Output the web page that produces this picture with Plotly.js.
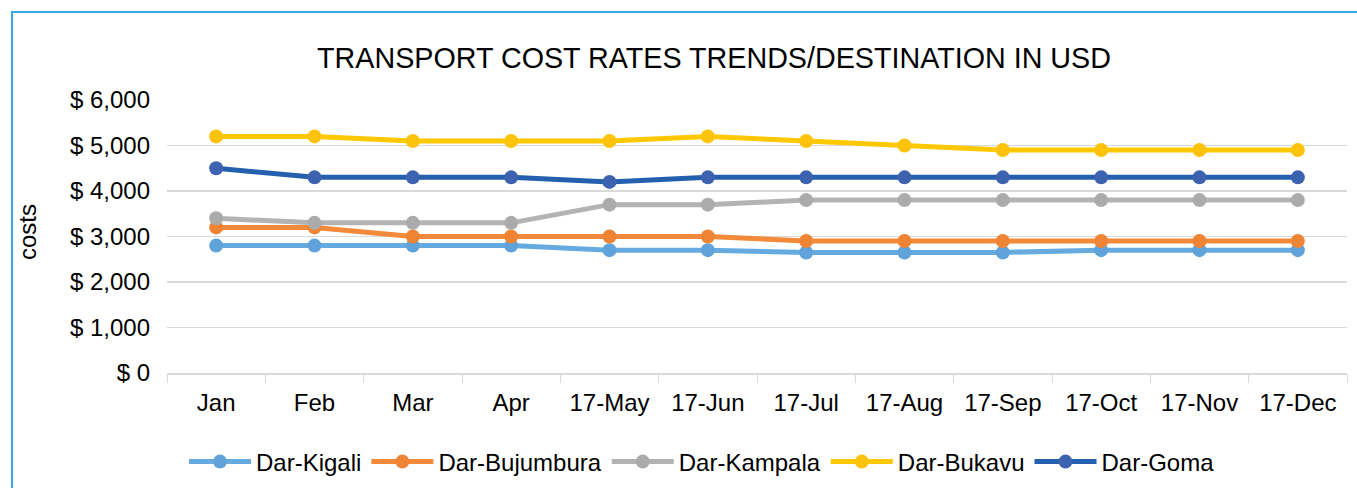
<!DOCTYPE html>
<html>
<head>
<meta charset="utf-8">
<script src="https://cdn.plot.ly/plotly-3.0.1.min.js"></script>
<style>
  html, body { margin: 0; padding: 0; background: #fff; }
  #wrap { position: relative; width: 1357px; height: 488px; overflow: hidden; }
  #frame { position: absolute; left: 11px; top: 11px; width: 1400px; height: 600px;
           border-left: 2px solid #3aa9df; border-top: 2px solid #3aa9df; }
  #chart { position: absolute; left: 0; top: 0; width: 1357px; height: 488px; }
</style>
</head>
<body>
<div id="wrap">
  <div id="frame"></div>
  <div id="chart"></div>
</div>
<script>
const months = ["Jan", "Feb", "Mar", "Apr", "17-May", "17-Jun", "17-Jul", "17-Aug", "17-Sep", "17-Oct", "17-Nov", "17-Dec"];
const darKigali    = [2800, 2800, 2800, 2800, 2700, 2700, 2650, 2650, 2650, 2700, 2700, 2700];
const darBujumbura = [3200, 3200, 3000, 3000, 3000, 3000, 2900, 2900, 2900, 2900, 2900, 2900];
const darKampala   = [3400, 3300, 3300, 3300, 3700, 3700, 3800, 3800, 3800, 3800, 3800, 3800];
const darBukavu    = [5200, 5200, 5100, 5100, 5100, 5200, 5100, 5000, 4900, 4900, 4900, 4900];
const darGoma      = [4500, 4300, 4300, 4300, 4200, 4300, 4300, 4300, 4300, 4300, 4300, 4300];
const seriesNames  = ["Dar-Kigali", "Dar-Bujumbura", "Dar-Kampala", "Dar-Bukavu", "Dar-Goma"];

const seriesData = [darKigali, darBujumbura, darKampala, darBukavu, darGoma];
const lineColors = ["#66aae0", "#f28a3a", "#b3b3b3", "#ffc800", "#2460ad"];
const markerColors = ["#5fa3da", "#ef8434", "#ababab", "#fdc30a", "#3d63b0"];

const traces = seriesData.map((d, i) => ({
  type: "scatter",
  mode: "lines+markers",
  x: months,
  y: d,
  name: seriesNames[i],
  line: { color: lineColors[i], width: 5 },
  marker: { color: markerColors[i], size: 14 },
  hoverinfo: "x+y+name"
}));

const font = "Liberation Sans, Arial, Helvetica, sans-serif";
const plotLeft = 167, plotRight = 1347;

const layout = {
  width: 1357,
  height: 488,
  paper_bgcolor: "rgba(0,0,0,0)",
  plot_bgcolor: "rgba(0,0,0,0)",
  margin: { l: plotLeft, r: 1357 - plotRight, t: 100, b: 115, autoexpand: false },
  font: { family: font, size: 24, color: "#000" },
  title: {
    text: "TRANSPORT COST RATES TRENDS/DESTINATION IN USD",
    font: { family: font, size: 28.7, color: "#000" },
    xref: "paper", x: (714 - plotLeft) / (plotRight - plotLeft), xanchor: "center",
    yref: "container", y: 1 - 58 / 488, yanchor: "middle"
  },
  xaxis: {
    type: "category",
    range: [-0.5, months.length - 0.5],
    automargin: false,
    showgrid: false,
    showline: true,
    linecolor: "#d9d9d9",
    linewidth: 1.5,
    ticks: "outside",
    tickson: "boundaries",
    ticklen: 8,
    tickcolor: "#d9d9d9",
    tickfont: { family: font, size: 24, color: "#000" },
    ticklabelstandoff: 8,
    zeroline: false
  },
  yaxis: {
    automargin: false,
    range: [0, 6000],
    dtick: 1000,
    tickprefix: "$ ",
    tickformat: ",",
    showgrid: true,
    gridcolor: "#d9d9d9",
    gridwidth: 1.5,
    zeroline: false,
    showline: false,
    ticks: "",
    ticklabelstandoff: 16,
    tickfont: { family: font, size: 24, color: "#000" }
  },
  annotations: [{
    text: "costs",
    xref: "paper", yref: "paper",
    x: (28 - plotLeft) / (plotRight - plotLeft), y: (373 - 232) / 273,
    xanchor: "center", yanchor: "middle",
    textangle: -90, showarrow: false,
    font: { family: font, size: 24, color: "#000" }
  }],
  legend: {
    orientation: "h",
    x: (702 - plotLeft) / (plotRight - plotLeft), xanchor: "center",
    y: -(462 - 373) / 273, yanchor: "middle",
    font: { family: font, size: 24, color: "#000" },
    itemwidth: 62,
    tracegroupgap: 0
  },
  showlegend: true
};

Plotly.newPlot("chart", traces, layout, { displayModeBar: false, staticPlot: true });
</script>
</body>
</html>
